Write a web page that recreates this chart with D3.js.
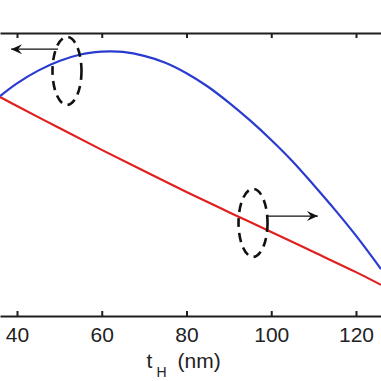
<!DOCTYPE html>
<html>
<head>
<meta charset="utf-8">
<script src="https://cdn.jsdelivr.net/npm/d3@7"></script>
<style>
  html, body { margin: 0; padding: 0; background: #fff; }
  svg { display: block; }
  text { font-family: "Liberation Sans", Arial, Helvetica, sans-serif; fill: #222; }
</style>
</head>
<body>
<div id="chart"></div>
<script>
// ---- data ----
const thickness = [36, 40, 45, 50, 55, 60, 62, 65, 70, 75, 80, 85, 90, 95, 100, 105, 110, 115, 120, 125.9];
const blueSeries = [0.777, 0.822, 0.867, 0.901, 0.924, 0.934, 0.935, 0.933, 0.919, 0.895, 0.858, 0.811, 0.754, 0.691, 0.622, 0.547, 0.463, 0.376, 0.284, 0.166];
const redThickness = [36, 40, 50, 60, 70, 80, 90, 100, 110, 120, 125.9];
const redSeries = [0.774, 0.742, 0.664, 0.587, 0.512, 0.438, 0.367, 0.297, 0.226, 0.155, 0.110];
const xTicks = [40, 60, 80, 100, 120];
const xLabel = "t";
const xLabelSub = "H";
const xLabelUnit = "(nm)";
// annotation anchors (data coords): ellipse centres and arrow directions
const leftMarker = { t: 51.8, v: 0.866, arrowTo: 38.6, arrowV: 0.943 };
const rightMarker = { t: 95.7, v: 0.329, arrowTo: 111.0, arrowV: 0.353 };

const W = 381, H = 381;
const svg = d3.select("#chart").append("svg").attr("width", W).attr("height", H);

const x = d3.scaleLinear().domain([35.99, 125.9]).range([0, W]);
const yL = d3.scaleLinear().domain([0, 1]).range([316, 33]);
const yR = d3.scaleLinear().domain([0, 1]).range([316, 33]);

// axes
const axisColor = "#1e1e1e";
const gB = svg.append("g").attr("transform", `translate(0,${yL(0)})`)
  .call(d3.axisBottom(x).tickValues(xTicks).tickSize(-5).tickSizeOuter(0).tickPadding(11).tickFormat(d3.format("d")));
const gT = svg.append("g").attr("transform", `translate(0,${yL(1)})`)
  .call(d3.axisTop(x).tickValues(xTicks).tickSize(-5).tickSizeOuter(0).tickFormat(""));
[gB, gT].forEach(g => {
  g.select(".domain").attr("stroke", axisColor).attr("stroke-width", 2.2);
  g.selectAll(".tick line").attr("stroke", axisColor).attr("stroke-width", 2);
  g.selectAll("text").style("font-size", "21px").attr("fill", "#222");
});

// lines
const lineB = d3.line().x((d, i) => x(thickness[i])).y(d => yL(d)).curve(d3.curveCatmullRom);
const lineR = d3.line().x((d, i) => x(redThickness[i])).y(d => yR(d)).curve(d3.curveCatmullRom);
svg.append("path").attr("d", lineR(redSeries)).attr("fill", "none").attr("stroke", "#e0201e").attr("stroke-width", 2.2);
svg.append("path").attr("d", lineB(blueSeries)).attr("fill", "none").attr("stroke", "#2a3bcf").attr("stroke-width", 2.2);

// annotations
function arrow(x1, y1, x2, y2) {
  svg.append("line").attr("x1", x1).attr("y1", y1).attr("x2", x2).attr("y2", y2)
    .attr("stroke", "#111").attr("stroke-width", 1.2);
  const dir = Math.sign(x2 - x1);
  const L = 11, Wd = 5, notch = 4;
  const p = [[x2, y2], [x2 - dir * L, y2 - Wd], [x2 - dir * (L - notch), y2], [x2 - dir * L, y2 + Wd]];
  svg.append("path").attr("d", "M" + p.map(q => q.join(",")).join("L") + "Z").attr("fill", "#111");
}
function ellipse(cx, cy) {
  svg.append("ellipse").attr("cx", cx).attr("cy", cy).attr("rx", 14.5).attr("ry", 34)
    .attr("fill", "none").attr("stroke", "#111").attr("stroke-width", 2.6).attr("stroke-dasharray", "9,6");
}
ellipse(x(leftMarker.t), yL(leftMarker.v));
arrow(x(leftMarker.t) - 9, yL(leftMarker.arrowV), x(leftMarker.arrowTo), yL(leftMarker.arrowV));
ellipse(x(rightMarker.t), yR(rightMarker.v));
arrow(x(rightMarker.t) + 15, yR(rightMarker.arrowV), x(rightMarker.arrowTo), yR(rightMarker.arrowV));

// x label
const cx80 = x(80);
svg.append("text").attr("x", cx80 - 40).attr("y", 368).style("font-size", "21px").text(xLabel);
svg.append("text").attr("x", cx80 - 30).attr("y", 377).style("font-size", "14px").text(xLabelSub);
svg.append("text").attr("x", cx80 - 9).attr("y", 368).style("font-size", "21px").text(xLabelUnit);
</script>
</body>
</html>
